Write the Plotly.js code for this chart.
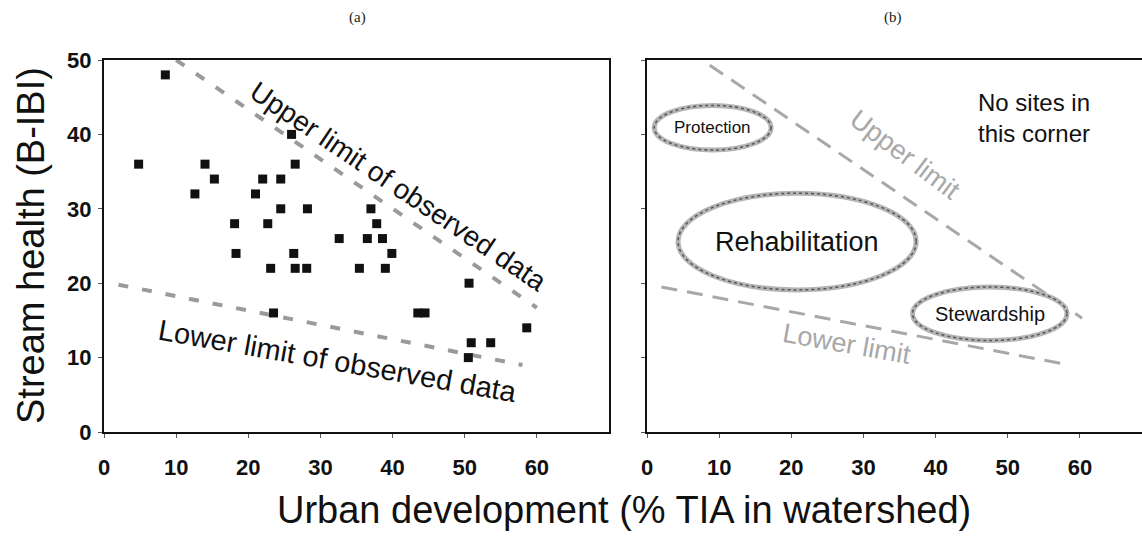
<!DOCTYPE html>
<html><head><meta charset="utf-8">
<script src="https://cdn.plot.ly/plotly-3.0.1.min.js"></script>
<style>html,body{margin:0;padding:0;background:#fff}#chart{width:1142px;height:543px}</style>
</head><body><div id="chart"></div>
<script>
// Panel (a): observed sites
const siteTIA  = [8.5, 4.8, 14, 26.5, 26, 15.3, 22, 24.5, 12.6, 21, 24.5, 28.2, 37, 18.1, 22.7, 37.8, 32.6, 36.5, 38.6, 18.3, 26.3, 39.9, 23.1, 26.5, 28.1, 35.4, 39, 50.6, 23.5, 43.5, 44.5, 58.6, 50.9, 53.6, 50.5];
const siteBIBI = [48, 36, 36, 36, 40, 34, 34, 34, 32, 32, 30, 30, 30, 28, 28, 28, 26, 26, 26, 24, 24, 24, 22, 22, 22, 22, 22, 20, 16, 16, 16, 14, 12, 12, 10];

// Limit lines
const upperLimitAX = [10, 60];   const upperLimitAY = [50, 16.7];
const lowerLimitAX = [2, 58];    const lowerLimitAY = [19.8, 9];
const upperLimitBX = [8.7, 60.3]; const upperLimitBY = [49.3, 15.3];
const lowerLimitBX = [2, 58.5];  const lowerLimitBY = [19.5, 9];

// Panel (b): management zones
const zoneNames      = ['Protection', 'Rehabilitation', 'Stewardship'];
const zoneCenterX    = [9.1, 20.8, 47.5];
const zoneCenterY    = [40.9, 25.6, 15.9];
const zoneHalfWidth  = [8.1, 16.5, 10.7];
const zoneHalfHeight = [3.0, 6.5, 3.6];
const zoneFontSize   = [17, 27, 20];

const xTicks = [0, 10, 20, 30, 40, 50, 60];
const yTicks = [0, 10, 20, 30, 40, 50];

const FONT = 'Liberation Sans, Arial, sans-serif';
const limitGray = '#9a9a9a';

const traces = [
  {x: upperLimitAX, y: upperLimitAY, xaxis: 'x', yaxis: 'y', mode: 'lines',
   line: {color: limitGray, width: 4, dash: '10px,14px'}, hoverinfo: 'skip'},
  {x: lowerLimitAX, y: lowerLimitAY, xaxis: 'x', yaxis: 'y', mode: 'lines',
   line: {color: limitGray, width: 4, dash: '10px,14px'}, hoverinfo: 'skip'},
  {x: siteTIA, y: siteBIBI, xaxis: 'x', yaxis: 'y', mode: 'markers', type: 'scatter',
   marker: {symbol: 'square', size: 9, color: '#111'}},
  {x: upperLimitBX, y: upperLimitBY, xaxis: 'x2', yaxis: 'y2', mode: 'lines',
   line: {color: '#a8a8a8', width: 3, dash: '16px,10px'}, hoverinfo: 'skip'},
  {x: lowerLimitBX, y: lowerLimitBY, xaxis: 'x2', yaxis: 'y2', mode: 'lines',
   line: {color: '#a8a8a8', width: 3, dash: '16px,10px'}, hoverinfo: 'skip'}
];

const ellipse = (i, line) => ({
  type: 'circle', xref: 'x2', yref: 'y2',
  x0: zoneCenterX[i] - zoneHalfWidth[i], x1: zoneCenterX[i] + zoneHalfWidth[i],
  y0: zoneCenterY[i] - zoneHalfHeight[i], y1: zoneCenterY[i] + zoneHalfHeight[i],
  line: line
});
const shapes = [];
zoneNames.forEach((n, i) => {
  shapes.push(ellipse(i, {color: '#b5b5b5', width: 5}));
  shapes.push(ellipse(i, {color: '#555', width: 1.5, dash: 'dot'}));
});

const annotations = [
  {text: '(a)', xref: 'paper', yref: 'paper', x: 357/1142, y: 1 - 17/543, showarrow: false,
   xanchor: 'center', yanchor: 'middle',
   font: {family: 'Liberation Serif, Times New Roman, serif', size: 15, color: '#222'}},
  {text: '(b)', xref: 'paper', yref: 'paper', x: 893/1142, y: 1 - 17/543, showarrow: false,
   xanchor: 'center', yanchor: 'middle',
   font: {family: 'Liberation Serif, Times New Roman, serif', size: 15, color: '#222'}},
  {text: 'Urban development (% TIA in watershed)', xref: 'paper', yref: 'paper',
   x: 624/1142, y: 1 - 510/543, showarrow: false, xanchor: 'center', yanchor: 'middle',
   font: {family: FONT, size: 38, color: '#111'}},
  {text: 'Stream health (B-IBI)', xref: 'paper', yref: 'paper',
   x: 31/1142, y: 1 - 246/543, showarrow: false, textangle: -90, xanchor: 'center', yanchor: 'middle',
   font: {family: FONT, size: 38, color: '#111'}},
  {text: 'Upper limit of observed data', xref: 'x', yref: 'y', x: 40.8, y: 33,
   showarrow: false, textangle: 34, font: {family: FONT, size: 28, color: '#111'}},
  {text: 'Lower limit of observed data', xref: 'x', yref: 'y', x: 32.4, y: 9.6,
   showarrow: false, textangle: 10, font: {family: FONT, size: 29, color: '#111'}},
  {text: 'Upper limit', xref: 'x2', yref: 'y2', x: 35.8, y: 37.2,
   showarrow: false, textangle: 37, font: {family: FONT, size: 27, color: '#a8a8a8'}},
  {text: 'Lower limit', xref: 'x2', yref: 'y2', x: 27.7, y: 11.8,
   showarrow: false, textangle: 10, font: {family: FONT, size: 27, color: '#a8a8a8'}},
  {text: 'No sites in<br>this corner', xref: 'x2', yref: 'y2', x: 53.7, y: 42.2,
   showarrow: false, align: 'left', font: {family: FONT, size: 24, color: '#111'}}
].concat(zoneNames.map((n, i) => ({
  text: n, xref: 'x2', yref: 'y2', x: zoneCenterX[i], y: zoneCenterY[i], showarrow: false,
  font: {family: FONT, size: zoneFontSize[i], color: '#111'}
})));

const axisCommon = {
  showgrid: false, zeroline: false, showline: true, linecolor: '#111', linewidth: 2,
  ticks: 'outside', ticklen: 4, tickcolor: '#555', tickwidth: 1,
  tickfont: {family: FONT, size: 22, color: '#111', weight: 'bold'}, fixedrange: true
};

const layout = {
  width: 1142, height: 543,
  margin: {l: 0, r: 0, t: 0, b: 0, autoexpand: false},
  paper_bgcolor: '#fff', plot_bgcolor: '#fff',
  showlegend: false,
  xaxis: Object.assign({}, axisCommon, {domain: [104/1142, 609/1142], range: [0, 70],
    tickvals: xTicks, mirror: true, ticklabelstandoff: 11, anchor: 'y'}),
  yaxis: Object.assign({}, axisCommon, {domain: [111/543, 483/543], range: [0, 50],
    tickvals: yTicks, mirror: true, ticklabelstandoff: 2, anchor: 'x'}),
  xaxis2: Object.assign({}, axisCommon, {domain: [647/1142, 1], range: [0, 68.6],
    tickvals: xTicks, mirror: true, ticklabelstandoff: 11, anchor: 'y2'}),
  yaxis2: Object.assign({}, axisCommon, {domain: [111/543, 483/543], range: [0, 50],
    tickvals: yTicks, showticklabels: false, mirror: false, anchor: 'x2'}),
  shapes: shapes,
  annotations: annotations
};

Plotly.newPlot('chart', traces, layout, {displayModeBar: false, staticPlot: true});
</script>
</body></html>
